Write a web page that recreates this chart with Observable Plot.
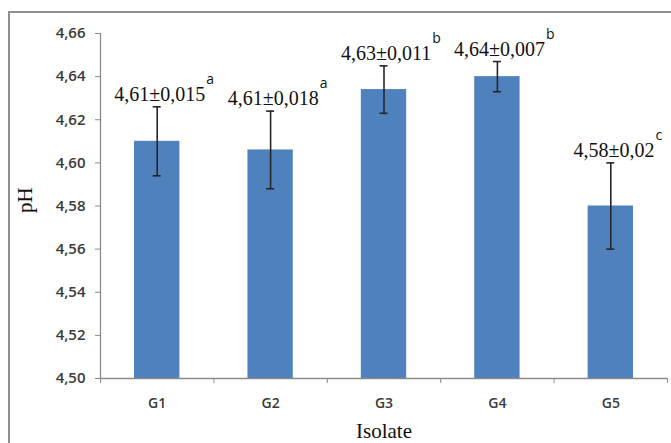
<!DOCTYPE html>
<html>
<head>
<meta charset="utf-8">
<script src="https://cdn.jsdelivr.net/npm/d3@7"></script>
<script src="https://cdn.jsdelivr.net/npm/@observablehq/plot@0.6"></script>
<style>
  html, body { margin: 0; padding: 0; background: #fff; }
  #wrap { position: relative; width: 671px; height: 443px; overflow: hidden; }
  #frame { position: absolute; left: 8px; top: 11px; width: 700px; height: 500px;
           border-top: 2px solid #8f8f8f; border-left: 2px solid #8f8f8f; box-sizing: border-box; }
  #chart { position: absolute; left: 0; top: 0; }
</style>
</head>
<body>
<div id="wrap"><div id="frame"></div><div id="chart"></div></div>
<script>
const isolates = ["G1", "G2", "G3", "G4", "G5"];
const means = [4.610, 4.606, 4.634, 4.640, 4.580];
const errors = [0.016, 0.018, 0.011, 0.007, 0.020];
const valueLabels = ["4,61±0,015", "4,61±0,018", "4,63±0,011", "4,64±0,007", "4,58±0,02"];
const letters = ["a", "a", "b", "b", "c"];
const yTicks = [4.50, 4.52, 4.54, 4.56, 4.58, 4.60, 4.62, 4.64, 4.66];
const yAxisTitle = "pH";
const xAxisTitle = "Isolate";

const data = isolates.map((g, i) => ({
  i, g, v: means[i], e: errors[i], label: valueLabels[i], letter: letters[i]
}));
const boundaries = d3.range(isolates.length + 1);
const centers = isolates.map((_, i) => i + 0.5);
const yMin = yTicks[0], yMax = yTicks[yTicks.length - 1];

const serif = "'Liberation Serif', 'Times New Roman', serif";
const sans = "'Open Sans', 'Liberation Sans', Arial, sans-serif";

const plot = Plot.plot({
  width: 671,
  height: 443,
  marginLeft: 100,
  marginRight: 4,
  marginTop: 33,
  marginBottom: 65,
  style: { fontFamily: sans, background: "transparent" },
  x: { domain: [0, isolates.length], axis: null },
  y: { domain: [yMin, yMax], axis: null },
  marks: [
    Plot.rectY(data, { x1: d => d.i + 0.3, x2: d => d.i + 0.7, y1: yMin, y2: "v", fill: "#4F81BD" }),
    // axis lines
    Plot.ruleX([0], { y1: yMin, y2: yMax, stroke: "#8a8a8a", strokeWidth: 1.3 }),
    Plot.ruleY([yMin], { x1: 0, x2: isolates.length, stroke: "#8a8a8a", strokeWidth: 1.3 }),
    Plot.axisY({ ticks: yTicks, tickSize: 5, tickFormat: () => "", stroke: "#8a8a8a", label: null }),
    Plot.axisX({ ticks: boundaries, tickSize: 5, tickFormat: () => "", stroke: "#8a8a8a", label: null }),
    // tick labels
    Plot.text(yTicks, { x: 0, y: d => d, text: d => d.toFixed(2).replace(".", ","), textAnchor: "end", dx: -15,
      fontFamily: sans, fontSize: 15, fontWeight: 600, fill: "#3a3a3a" }),
    Plot.text(centers, { x: d => d, y: yMin, text: d => isolates[Math.floor(d)], dy: 25,
      fontFamily: sans, fontSize: 14, fontWeight: 600, fill: "#3a3a3a" }),
    // error bars
    Plot.ruleX(data, { x: d => d.i + 0.5, y1: d => d.v - d.e, y2: d => d.v + d.e, stroke: "#262626", strokeWidth: 1.6 }),
    Plot.ruleY(data, { y: d => d.v + d.e, x1: d => d.i + 0.5, x2: d => d.i + 0.5, insetLeft: -4, insetRight: -4, stroke: "#262626", strokeWidth: 1.6 }),
    Plot.ruleY(data, { y: d => d.v - d.e, x1: d => d.i + 0.5, x2: d => d.i + 0.5, insetLeft: -4, insetRight: -4, stroke: "#262626", strokeWidth: 1.6 }),
    // value labels
    Plot.text(data, { x: d => d.i + 0.5, y: d => d.v + d.e, text: "label", dy: -6, dx: 7,
      lineAnchor: "bottom", fontFamily: serif, fontSize: 20, fill: "#111" }),
    // axis titles
    Plot.text([yAxisTitle], { frameAnchor: "left", text: d => d, rotate: -90, dx: -75, dy: 7,
      fontFamily: serif, fontSize: 21, fill: "#111" }),
    Plot.text([xAxisTitle], { frameAnchor: "bottom", text: d => d, lineAnchor: "bottom", dy: 59,
      fontFamily: serif, fontSize: 21, fill: "#111" })
  ]
});

// superscript letters
const labelSet = new Map(data.map(d => [d.label, d.letter]));
plot.querySelectorAll("text").forEach(t => {
  const txt = t.textContent;
  if (labelSet.has(txt)) {
    const ts = document.createElementNS("http://www.w3.org/2000/svg", "tspan");
    ts.textContent = labelSet.get(txt);
    ts.setAttribute("dy", "-17");
    ts.setAttribute("dx", "1");
    ts.setAttribute("font-size", "14");
    ts.setAttribute("font-family", sans);
    t.appendChild(ts);
  }
});

document.getElementById("chart").appendChild(plot);
</script>
</body>
</html>
